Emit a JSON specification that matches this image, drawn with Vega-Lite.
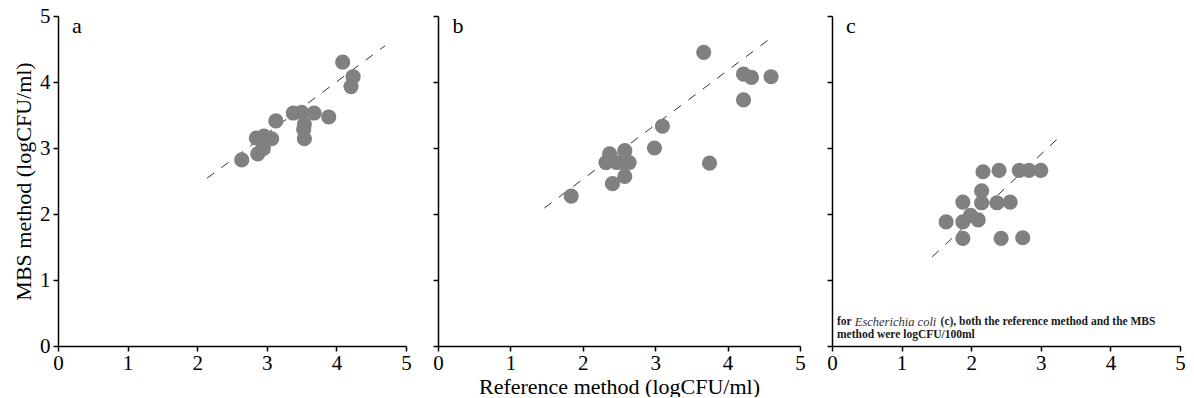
{
  "$schema": "https://vega.github.io/schema/vega-lite/v6.json",
  "padding": {"left": 12, "top": 5, "right": 5, "bottom": 0},
  "background": "white",
  "spacing": 32,
  "bounds": "flush",
  "datasets": {
    "a": [
      {"ref": 2.64, "mbs": 2.82}, {"ref": 2.85, "mbs": 3.15}, {"ref": 2.87, "mbs": 2.91},
      {"ref": 2.95, "mbs": 2.99}, {"ref": 2.96, "mbs": 3.18}, {"ref": 3.07, "mbs": 3.14},
      {"ref": 3.13, "mbs": 3.41}, {"ref": 3.38, "mbs": 3.53}, {"ref": 3.5, "mbs": 3.54},
      {"ref": 3.53, "mbs": 3.28}, {"ref": 3.54, "mbs": 3.36}, {"ref": 3.54, "mbs": 3.14},
      {"ref": 3.68, "mbs": 3.53}, {"ref": 3.89, "mbs": 3.47}, {"ref": 4.09, "mbs": 4.3},
      {"ref": 4.24, "mbs": 4.08}, {"ref": 4.21, "mbs": 3.93}
    ],
    "b": [
      {"ref": 1.84, "mbs": 2.27}, {"ref": 2.41, "mbs": 2.46}, {"ref": 2.58, "mbs": 2.57},
      {"ref": 2.32, "mbs": 2.78}, {"ref": 2.37, "mbs": 2.91}, {"ref": 2.47, "mbs": 2.78},
      {"ref": 2.56, "mbs": 2.78}, {"ref": 2.58, "mbs": 2.96}, {"ref": 2.64, "mbs": 2.78},
      {"ref": 2.99, "mbs": 3.0}, {"ref": 3.1, "mbs": 3.33}, {"ref": 3.67, "mbs": 4.45},
      {"ref": 3.75, "mbs": 2.77}, {"ref": 4.22, "mbs": 4.12}, {"ref": 4.33, "mbs": 4.07},
      {"ref": 4.22, "mbs": 3.73}, {"ref": 4.6, "mbs": 4.08}
    ],
    "c": [
      {"ref": 1.64, "mbs": 1.88}, {"ref": 1.88, "mbs": 2.18}, {"ref": 1.88, "mbs": 1.88},
      {"ref": 1.88, "mbs": 1.63}, {"ref": 1.99, "mbs": 1.98}, {"ref": 2.1, "mbs": 1.91},
      {"ref": 2.15, "mbs": 2.35}, {"ref": 2.15, "mbs": 2.17}, {"ref": 2.17, "mbs": 2.64},
      {"ref": 2.37, "mbs": 2.17}, {"ref": 2.4, "mbs": 2.66}, {"ref": 2.43, "mbs": 1.63},
      {"ref": 2.56, "mbs": 2.18}, {"ref": 2.69, "mbs": 2.66}, {"ref": 2.74, "mbs": 1.64},
      {"ref": 2.83, "mbs": 2.66}, {"ref": 3.0, "mbs": 2.66}
    ],
    "la": [{"ref": 2.14, "mbs": 2.54}, {"ref": 4.7, "mbs": 4.55}],
    "lb": [{"ref": 1.47, "mbs": 2.09}, {"ref": 4.65, "mbs": 4.71}],
    "lc": [{"ref": 1.44, "mbs": 1.35}, {"ref": 3.26, "mbs": 3.16}],
    "one": [{}]
  },
  "hconcat": [
    {
      "width": 348, "height": 330,
      "layer": [
        {
          "data": {"name": "la"},
          "mark": {"type": "line", "color": "#333333", "strokeWidth": 1, "strokeDash": [9, 9]},
          "encoding": {
            "x": {"field": "ref", "type": "quantitative", "scale": {"domain": [0, 5], "nice": false},
                  "axis": {"values": [0, 1, 2, 3, 4, 5], "format": "d", "title": null}},
            "y": {"field": "mbs", "type": "quantitative", "scale": {"domain": [0, 5], "nice": false},
                  "axis": {"values": [0, 1, 2, 3, 4, 5], "format": "d", "title": "MBS method (logCFU/ml)", "titlePadding": 4, "labelPadding": 3}}
          }
        },
        {
          "data": {"name": "a"},
          "mark": {"type": "point", "filled": true, "shape": "circle", "size": 230, "color": "#808080", "opacity": 1},
          "encoding": {
            "x": {"field": "ref", "type": "quantitative"},
            "y": {"field": "mbs", "type": "quantitative"}
          }
        },
        {
          "data": {"name": "one"},
          "mark": {"type": "text", "align": "left", "baseline": "middle", "fontSize": 22, "font": "Liberation Serif", "color": "#000"},
          "encoding": {
            "x": {"datum": 0.2, "type": "quantitative"},
            "y": {"datum": 4.85, "type": "quantitative"},
            "text": {"value": "a"}
          }
        }
      ]
    },
    {
      "width": 362, "height": 330,
      "layer": [
        {
          "data": {"name": "lb"},
          "mark": {"type": "line", "color": "#333333", "strokeWidth": 1, "strokeDash": [9, 9]},
          "encoding": {
            "x": {"field": "ref", "type": "quantitative", "scale": {"domain": [0, 5], "nice": false},
                  "axis": {"values": [0, 1, 2, 3, 4, 5], "format": "d", "title": "Reference method (logCFU/ml)", "titlePadding": 3}},
            "y": {"field": "mbs", "type": "quantitative", "scale": {"domain": [0, 5], "nice": false},
                  "axis": {"values": [0, 1, 2, 3, 4, 5], "title": null, "labels": false}}
          }
        },
        {
          "data": {"name": "b"},
          "mark": {"type": "point", "filled": true, "shape": "circle", "size": 230, "color": "#808080", "opacity": 1},
          "encoding": {
            "x": {"field": "ref", "type": "quantitative"},
            "y": {"field": "mbs", "type": "quantitative"}
          }
        },
        {
          "data": {"name": "one"},
          "mark": {"type": "text", "align": "left", "baseline": "middle", "fontSize": 22, "font": "Liberation Serif", "color": "#000"},
          "encoding": {
            "x": {"datum": 0.2, "type": "quantitative"},
            "y": {"datum": 4.85, "type": "quantitative"},
            "text": {"value": "b"}
          }
        }
      ]
    },
    {
      "width": 348, "height": 330,
      "layer": [
        {
          "data": {"name": "lc"},
          "mark": {"type": "line", "color": "#333333", "strokeWidth": 1, "strokeDash": [9, 9]},
          "encoding": {
            "x": {"field": "ref", "type": "quantitative", "scale": {"domain": [0, 5], "nice": false},
                  "axis": {"values": [0, 1, 2, 3, 4, 5], "format": "d", "title": null}},
            "y": {"field": "mbs", "type": "quantitative", "scale": {"domain": [0, 5], "nice": false},
                  "axis": {"values": [0, 1, 2, 3, 4, 5], "title": null, "labels": false}}
          }
        },
        {
          "data": {"name": "c"},
          "mark": {"type": "point", "filled": true, "shape": "circle", "size": 230, "color": "#808080", "opacity": 1},
          "encoding": {
            "x": {"field": "ref", "type": "quantitative"},
            "y": {"field": "mbs", "type": "quantitative"}
          }
        },
        {
          "data": {"name": "one"},
          "mark": {"type": "text", "align": "left", "baseline": "middle", "fontSize": 22, "font": "Liberation Serif", "color": "#000"},
          "encoding": {
            "x": {"datum": 0.2, "type": "quantitative"},
            "y": {"datum": 4.85, "type": "quantitative"},
            "text": {"value": "c"}
          }
        },
        {
          "data": {"name": "one"},
          "mark": {"type": "text", "align": "left", "baseline": "middle", "fontSize": 11.5, "fontWeight": "bold", "font": "Liberation Serif", "color": "#1a1a1a"},
          "encoding": {
            "x": {"datum": 0.072, "type": "quantitative"},
            "y": {"datum": 0.364, "type": "quantitative"},
            "text": {"value": "for"}
          }
        },
        {
          "data": {"name": "one"},
          "mark": {"type": "text", "align": "left", "baseline": "middle", "fontSize": 12.5, "fontStyle": "italic", "font": "Liberation Serif", "color": "#333333"},
          "encoding": {
            "x": {"datum": 0.327, "type": "quantitative"},
            "y": {"datum": 0.364, "type": "quantitative"},
            "text": {"value": "Escherichia coli"}
          }
        },
        {
          "data": {"name": "one"},
          "mark": {"type": "text", "align": "left", "baseline": "middle", "fontSize": 11.5, "fontWeight": "bold", "font": "Liberation Serif", "color": "#1a1a1a"},
          "encoding": {
            "x": {"datum": 1.56, "type": "quantitative"},
            "y": {"datum": 0.364, "type": "quantitative"},
            "text": {"value": "(c), both the reference method and the MBS"}
          }
        },
        {
          "data": {"name": "one"},
          "mark": {"type": "text", "align": "left", "baseline": "middle", "fontSize": 11.5, "fontWeight": "bold", "font": "Liberation Serif", "color": "#1a1a1a"},
          "encoding": {
            "x": {"datum": 0.072, "type": "quantitative"},
            "y": {"datum": 0.167, "type": "quantitative"},
            "text": {"value": "method were logCFU/100ml"}
          }
        }
      ]
    }
  ],
  "config": {
    "font": "Liberation Serif",
    "view": {"stroke": null},
    "axis": {
      "grid": false,
      "domainColor": "#000000",
      "domainWidth": 1.5,
      "tickColor": "#000000",
      "tickWidth": 1.5,
      "tickSize": 5,
      "labelColor": "#000000",
      "labelFont": "Liberation Serif",
      "labelFontSize": 21,
      "labelPadding": 1,
      "labelFlush": false,
      "labelOverlap": false,
      "titleColor": "#000000",
      "titleFont": "Liberation Serif",
      "titleFontSize": 22,
      "titleFontWeight": "normal"
    }
  }
}
